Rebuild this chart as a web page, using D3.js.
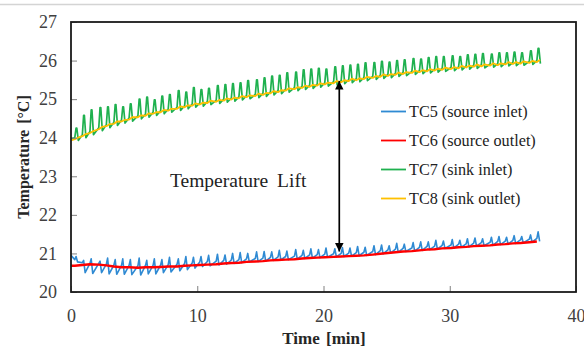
<!DOCTYPE html>
<html><head><meta charset="utf-8">
<script src="https://cdn.jsdelivr.net/npm/d3@7"></script>
<style>
html,body{margin:0;padding:0;background:#fff;}
svg{display:block;font-family:"Liberation Serif","Times New Roman",serif;}
</style></head>
<body><svg id="c" width="584" height="350"></svg>
<script>
// ---------- data ----------
const xTicks = [0, 10, 20, 30, 40];
const yTicks = [20, 21, 22, 23, 24, 25, 26, 27];
const seriesNames = ["TC5 (source inlet)", "TC6 (source outlet)", "TC7 (sink inlet)", "TC8 (sink outlet)"];
const seriesColors = ["#2f8ad3", "#ff0000", "#1fb14f", "#ffc000"];
const liftTime = 21.25, liftTop = 25.47, liftBottom = 21.05;

// cycle start times [min]
const cycleT = [0.3,0.9,1.5,2.2,2.8,3.4,4.0,4.6,5.3,5.9,6.5,7.1,7.7,8.4,9.0,9.6,10.2,10.8,11.5,12.1,
12.7,13.3,13.9,14.6,15.2,15.8,16.4,17.0,17.7,18.3,18.9,19.5,20.1,20.8,21.4,22.0,22.6,23.2,23.9,24.5,
25.1,25.7,26.3,27.0,27.6,28.2,28.8,29.4,30.1,30.7,31.3,31.9,32.5,33.2,33.8,34.4,35.0,35.6,36.3,36.9];

// TC8 sink outlet (yellow): base and small bump per cycle
const tc8Base = [23.96,24.04,24.12,24.22,24.30,24.36,24.42,24.47,24.53,24.57,24.62,24.66,24.70,24.75,24.79,24.83,24.86,24.90,24.93,24.96,
24.99,25.02,25.05,25.08,25.11,25.15,25.18,25.22,25.26,25.29,25.32,25.35,25.38,25.41,25.44,25.47,25.49,25.52,25.55,25.58,
25.60,25.63,25.65,25.68,25.70,25.72,25.74,25.76,25.78,25.80,25.82,25.84,25.85,25.87,25.88,25.90,25.91,25.92,25.94,25.96];
const tc8Bump = [24.00,24.09,24.17,24.28,24.35,24.42,24.46,24.53,24.58,24.63,24.66,24.72,24.75,24.81,24.84,24.89,24.91,24.96,24.98,25.02,
25.04,25.08,25.10,25.14,25.16,25.21,25.23,25.28,25.31,25.35,25.37,25.41,25.43,25.47,25.49,25.53,25.54,25.58,25.60,25.64,
25.65,25.69,25.70,25.74,25.75,25.78,25.79,25.82,25.83,25.86,25.87,25.90,25.90,25.93,25.93,25.96,25.96,25.98,25.99,26.02];

// TC7 sink inlet (green): base, spike peak, dip
const tc7Base = [24.00,24.08,24.16,24.26,24.34,24.40,24.46,24.51,24.57,24.61,24.66,24.70,24.74,24.79,24.83,24.87,24.90,24.94,24.97,25.00,
25.03,25.06,25.09,25.12,25.15,25.19,25.22,25.26,25.30,25.33,25.36,25.39,25.42,25.45,25.48,25.51,25.53,25.56,25.59,25.62,
25.64,25.67,25.69,25.72,25.74,25.76,25.78,25.80,25.82,25.84,25.86,25.88,25.89,25.91,25.92,25.94,25.95,25.96,25.98,26.00];
const tc7Peak = [24.25,24.58,24.72,24.78,24.80,24.86,24.80,24.88,25.00,25.05,24.98,25.08,25.12,25.22,25.18,25.30,25.25,25.28,25.35,25.38,
25.40,25.42,25.48,25.50,25.55,25.60,25.62,25.68,25.70,25.76,25.78,25.80,25.78,25.84,25.86,25.88,25.90,25.94,25.95,25.98,
25.96,26.00,26.02,26.05,26.04,26.08,26.10,26.10,26.12,26.10,26.15,26.16,26.18,26.17,26.20,26.20,26.22,26.20,26.25,26.32];
const tc7Dip = [23.93,24.00,24.08,24.18,24.26,24.32,24.38,24.43,24.49,24.53,24.58,24.62,24.66,24.71,24.75,24.79,24.82,24.86,24.89,24.92,
24.95,24.98,25.01,25.04,25.07,25.11,25.14,25.18,25.22,25.25,25.28,25.31,25.34,25.37,25.40,25.43,25.45,25.48,25.51,25.54,
25.56,25.59,25.61,25.64,25.66,25.68,25.70,25.72,25.74,25.76,25.78,25.80,25.81,25.83,25.84,25.86,25.87,25.88,25.90,25.92];

// TC6 source outlet (red)
const tc6 = [20.68,20.70,20.72,20.71,20.69,20.66,20.64,20.64,20.63,20.64,20.64,20.65,20.66,20.66,20.68,20.69,20.70,20.71,20.72,20.74,
20.75,20.76,20.78,20.79,20.80,20.82,20.83,20.84,20.85,20.87,20.88,20.89,20.90,20.91,20.92,20.93,20.94,20.95,20.97,20.99,
21.01,21.03,21.05,21.06,21.08,21.10,21.11,21.13,21.14,21.16,21.17,21.19,21.20,21.21,21.23,21.24,21.26,21.27,21.29,21.31];

// TC5 source inlet (blue): base, spike peak, dip
const tc5Base = [20.84,20.76,20.74,20.74,20.72,20.70,20.69,20.69,20.68,20.69,20.69,20.70,20.71,20.72,20.74,20.75,20.78,20.79,20.80,20.82,
20.83,20.84,20.86,20.87,20.88,20.90,20.91,20.92,20.93,20.95,20.96,20.97,20.98,20.99,21.00,21.01,21.02,21.03,21.05,21.07,
21.09,21.11,21.13,21.14,21.16,21.18,21.19,21.21,21.22,21.24,21.25,21.27,21.28,21.29,21.31,21.32,21.34,21.35,21.37,21.39];
const tc5Peak = [20.92,20.82,20.86,20.80,20.88,20.84,20.86,20.84,20.88,20.82,20.86,20.84,20.90,20.86,20.92,20.90,20.92,20.95,20.98,20.96,
21.00,21.02,21.00,21.04,21.05,21.04,21.08,21.06,21.10,21.08,21.12,21.10,21.14,21.12,21.15,21.14,21.18,21.16,21.20,21.22,
21.20,21.26,21.24,21.28,21.30,21.30,21.34,21.32,21.36,21.34,21.38,21.40,21.38,21.42,21.44,21.42,21.46,21.44,21.48,21.56];
const tc5Dip = [20.78,20.50,20.48,20.50,20.47,20.46,20.46,20.45,20.44,20.47,20.47,20.50,20.52,20.55,20.58,20.62,20.66,20.68,20.70,20.72,
20.74,20.76,20.78,20.79,20.80,20.82,20.83,20.84,20.85,20.87,20.88,20.89,20.90,20.91,20.92,20.93,20.94,20.95,20.97,20.99,
21.01,21.03,21.05,21.06,21.08,21.10,21.11,21.13,21.14,21.16,21.17,21.19,21.20,21.21,21.23,21.24,21.26,21.27,21.29,21.31];
const startVals = [20.95, 20.68, 23.98, 23.93]; // values at t = 0 for TC5..TC8

// ---------- chart ----------
const svg = d3.select("#c");
const m = {l: 71, r: 576, t: 22, b: 292};
const x = d3.scaleLinear().domain([0, 40]).range([m.l, m.r]);
const y = d3.scaleLinear().domain([20, 27]).range([m.b, m.t]);

// outer top border of the picture
svg.append("line").attr("x1", 0).attr("x2", 584).attr("y1", 4.5).attr("y2", 4.5)
  .attr("stroke", "#d4d4d4").attr("stroke-width", 1.5);

function build(baseArr, extra) {
  const pts = [];
  cycleT.forEach((t, i) => {
    pts.push([t, baseArr[i]]);
    extra.forEach(([dt, arr]) => pts.push([t + dt, arr[i]]));
  });
  return pts;
}
const seriesPts = [
  [[0, startVals[0]]].concat(build(tc5Base, [[0.1, tc5Peak], [0.22, tc5Dip]])),
  [[0, startVals[1]]].concat(build(tc6, [])),
  [[0, startVals[2]]].concat(build(tc7Base, [[0.1, tc7Peak], [0.16, tc7Peak], [0.28, tc7Dip]])),
  [[0, startVals[3]]].concat(build(tc8Base, [[0.25, tc8Bump]]))
];
const line = d3.line().x(d => x(d[0])).y(d => y(d[1]));
const lineW = [1.6, 2.4, 1.7, 1.8];
seriesPts.forEach((pts, k) => {
  svg.append("path").datum(pts).attr("d", line)
    .attr("fill", "none").attr("stroke", seriesColors[k])
    .attr("stroke-width", lineW[k]).attr("stroke-linejoin", "round");
});

// axes (ticks inward)
const gy = svg.append("g").attr("transform", `translate(${m.l},0)`)
  .call(d3.axisLeft(y).tickValues(yTicks).tickSize(-6).tickPadding(14).tickFormat(d3.format("d")));
const gx = svg.append("g").attr("transform", `translate(0,${m.b})`)
  .call(d3.axisBottom(x).tickValues(xTicks).tickSize(-6).tickPadding(17).tickFormat(d3.format("d")));
[gx, gy].forEach(g => {
  g.select(".domain").remove();
  g.selectAll(".tick line").attr("stroke", "#808080").attr("stroke-width", 1);
  g.selectAll(".tick text").attr("fill", "#404040").attr("font-size", 18)
    .attr("font-family", "'Liberation Serif','Times New Roman',serif");
});

// frame
svg.append("rect").attr("x", m.l).attr("y", m.t).attr("width", m.r - m.l).attr("height", m.b - m.t)
  .attr("fill", "none").attr("stroke", "#1a1a1a").attr("stroke-width", 1.8);

// axis titles
svg.append("text").attr("x", (m.l + m.r) / 2 + 0.5).attr("y", 344).attr("text-anchor", "middle")
  .attr("font-size", 17).attr("font-weight", "bold").attr("fill", "#262626").attr("word-spacing", 2)
  .text("Time [min]");
svg.append("text").attr("transform", `translate(29,${(m.t + m.b) / 2}) rotate(-90)`)
  .attr("text-anchor", "middle").attr("font-size", 16).attr("font-weight", "bold").attr("fill", "#262626")
  .attr("word-spacing", 2).text("Temperature [°C]");

// temperature lift arrow
const defs = svg.append("defs");
defs.append("marker").attr("id", "ah").attr("viewBox", "0 0 10 10").attr("refX", 10).attr("refY", 5)
  .attr("markerWidth", 5).attr("markerHeight", 5).attr("orient", "auto-start-reverse")
  .append("path").attr("d", "M0,0 L10,5 L0,10 Z").attr("fill", "#000");
svg.append("line").attr("x1", x(liftTime)).attr("x2", x(liftTime))
  .attr("y1", y(liftBottom)).attr("y2", y(liftTop))
  .attr("stroke", "#000").attr("stroke-width", 1.7)
  .attr("marker-start", "url(#ah)").attr("marker-end", "url(#ah)");
svg.append("text").attr("x", 170).attr("y", 187).attr("font-size", 19.5).attr("fill", "#222")
  .attr("word-spacing", 4).text("Temperature Lift");

// legend
const lg = svg.append("g");
seriesNames.forEach((n, k) => {
  const cy = 111.5 + k * 29;
  lg.append("line").attr("x1", 381).attr("x2", 406).attr("y1", cy).attr("y2", cy)
    .attr("stroke", seriesColors[k]).attr("stroke-width", 1.8);
  lg.append("text").attr("x", 409).attr("y", cy + 5.5).attr("font-size", 16.2).attr("fill", "#222").text(n);
});
</script></body></html>
